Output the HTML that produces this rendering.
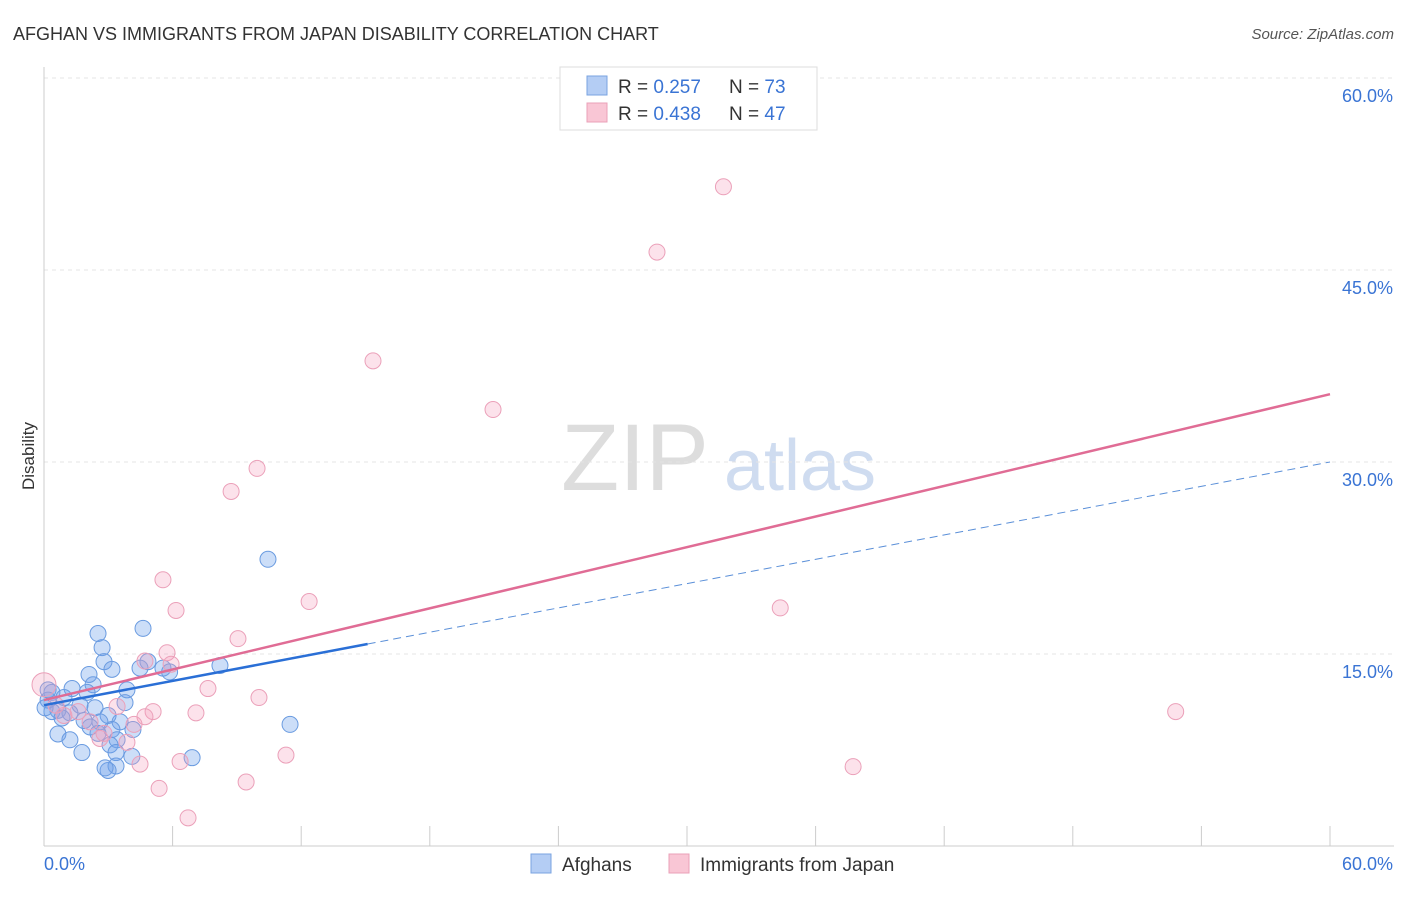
<!DOCTYPE html>
<html><head><meta charset="utf-8"><style>
body{margin:0;background:#fff;font-family:"Liberation Sans",sans-serif;}
svg text{font-family:"Liberation Sans",sans-serif;}
</style></head><body>
<svg id="chart" width="1406" height="892" xmlns="http://www.w3.org/2000/svg">
<text x="13" y="40" font-size="18" fill="#333">AFGHAN VS IMMIGRANTS FROM JAPAN DISABILITY CORRELATION CHART</text>
<text x="1394" y="39" font-size="15" fill="#555" text-anchor="end" font-style="italic">Source: ZipAtlas.com</text>
<text x="34" y="456" font-size="17" fill="#333" text-anchor="middle" transform="rotate(-90 34 456)">Disability</text>
<g>
<text x="635" y="490" font-size="95" fill="#ddd" text-anchor="middle" font-family="Liberation Serif">ZIP</text>
<text x="800" y="490" font-size="72" fill="#cfdcf0" text-anchor="middle">atlas</text>
</g>
<g id="grid"></g><g id="axes"></g><g id="marks"></g>
<g>
<rect x="560" y="67" width="257" height="63" fill="#fff" stroke="#ddd"/>
<rect x="587" y="76" width="20" height="19" fill="#b4cdf4" stroke="#7aa3e0"/>
<rect x="587" y="103" width="20" height="19" fill="#f9c6d5" stroke="#eaa0b8"/>
<text x="618" y="93" font-size="19" fill="#333">R = <tspan fill="#3a74d4">0.257</tspan></text>
<text x="729" y="93" font-size="19" fill="#333">N = <tspan fill="#3a74d4">73</tspan></text>
<text x="618" y="120" font-size="19" fill="#333">R = <tspan fill="#3a74d4">0.438</tspan></text>
<text x="729" y="120" font-size="19" fill="#333">N = <tspan fill="#3a74d4">47</tspan></text>
</g>
<g>
<rect x="531" y="854" width="20" height="19" fill="#b4cdf4" stroke="#7aa3e0"/>
<text x="562" y="871" font-size="19" fill="#333">Afghans</text>
<rect x="669" y="854" width="20" height="19" fill="#f9c6d5" stroke="#eaa0b8"/>
<text x="700" y="871" font-size="19" fill="#333">Immigrants from Japan</text>
</g>
</svg>
<script>
const yTicks=[15,30,45,60];
const yTickLabels=["15.0%","30.0%","45.0%","60.0%"];
const xTickLabels=["0.0%","60.0%"];
const blueX=[10.45,4.62,2.52,2.71,2.8,4.85,3.17,4.48,5.55,5.86,8.21,2.1,2.29,3.87,1.31,2.01,0.37,0.93,0.19,3.78,1.68,2.38,0.65,1.21,2.99,0.37,0.84,1.87,2.61,3.55,11.48,2.15,3.17,4.15,0.65,1.21,2.52,3.41,1.77,3.08,3.36,6.91,4.1,3.36,2.99,2.85,0.05,0.19];
const blueY=[22.4,17.0,16.6,15.5,14.4,14.4,13.8,13.9,13.9,13.6,14.1,13.4,12.6,12.2,12.3,12.0,12.0,11.6,11.4,11.2,11.0,10.8,10.6,10.4,10.2,10.5,10.0,9.8,9.7,9.7,9.5,9.3,9.1,9.1,8.75,8.3,8.8,8.3,7.3,7.9,7.3,6.9,7.0,6.25,5.9,6.1,10.8,12.2];
const pinkX=[31.7,28.6,15.35,20.95,9.94,8.73,5.55,12.37,6.16,34.35,9.05,5.74,5.93,4.71,7.65,10.03,52.8,7.09,5.09,4.71,3.41,0.93,2.15,4.2,1.59,2.61,3.87,11.29,6.35,4.48,37.75,9.43,5.37,6.72,0.0,0.56,2.8];
const pinkY=[51.5,46.4,37.9,34.1,29.5,27.7,20.8,19.1,18.4,18.6,16.2,15.1,14.2,14.45,12.3,11.6,10.5,10.4,10.5,10.1,10.9,10.2,9.7,9.5,10.5,8.4,8.1,7.1,6.6,6.4,6.2,5.0,4.5,2.2,12.6,11.0,8.8];
const blueTrend=[11.0,30.0];
const blueSolidEnd=15.1;
const pinkTrend=[11.4,35.3];
const X0=44,X1=1330,Y0=846,YPER=192/15;
const sx=v=>X0+(X1-X0)*v/60, sy=v=>Y0-v*YPER;
const NS="http://www.w3.org/2000/svg";
function mk(tag,attrs,parent){const e=document.createElementNS(NS,tag);for(const k in attrs)e.setAttribute(k,attrs[k]);document.getElementById(parent).appendChild(e);return e;}
yTicks.forEach((t,i)=>{
 const g=mk('line',{x1:X0,x2:1394,y1:sy(t),y2:sy(t),stroke:'#e4e4e4','stroke-dasharray':'4,4'},'grid');
 
 
 const l=mk('text',{x:1393,y:sy(t)+24,'font-size':18,fill:'#3a74d4','text-anchor':'end'},'axes');
 l.textContent=yTickLabels[i];
 
 
});
const ax=mk('line',{x1:X0,x2:X0,y1:67,y2:Y0,stroke:'#ccc'},'axes');


const bx=mk('line',{x1:X0,x2:1394,y1:Y0,y2:Y0,stroke:'#ccc'},'axes');


for(let i=0;i<=10;i++){const t=mk('line',{x1:sx(i*6),x2:sx(i*6),y1:826,y2:Y0,stroke:'#ccc'},'axes');
 
 }
[[0,'start',44],[60,'end',1393]].forEach((d,i)=>{const t=mk('text',{x:d[2],y:870,'font-size':18,fill:'#3a74d4','text-anchor':d[1]},'axes');t.textContent=xTickLabels[i];
 
 });
blueX.forEach((x,i)=>{const c=mk('circle',{cx:sx(x),cy:sy(blueY[i]),r:8,fill:'rgba(110,160,235,0.35)',stroke:'#6a9be0','stroke-width':1},'marks');
 
 });
pinkX.forEach((x,i)=>{const c=mk('circle',{cx:sx(x),cy:sy(pinkY[i]),r:i==34?12:8,fill:'rgba(245,160,190,0.3)',stroke:'#eba0b9','stroke-width':1},'marks');
 
 });
const bAt=v=>blueTrend[0]+(blueTrend[1]-blueTrend[0])*v/60;
const l1=mk('line',{x1:sx(0),y1:sy(bAt(0)),x2:sx(blueSolidEnd),y2:sy(bAt(blueSolidEnd)),stroke:'#2a6fd6','stroke-width':2.5},'marks');


const l2=mk('line',{x1:sx(blueSolidEnd),y1:sy(bAt(blueSolidEnd)),x2:sx(60),y2:sy(bAt(60)),stroke:'#5a8fd8','stroke-width':1,'stroke-dasharray':'8,5'},'marks');


const l3=mk('line',{x1:sx(0),y1:sy(pinkTrend[0]),x2:sx(60),y2:sy(pinkTrend[1]),stroke:'#e06c95','stroke-width':2.5},'marks');


</script>
</body></html>
